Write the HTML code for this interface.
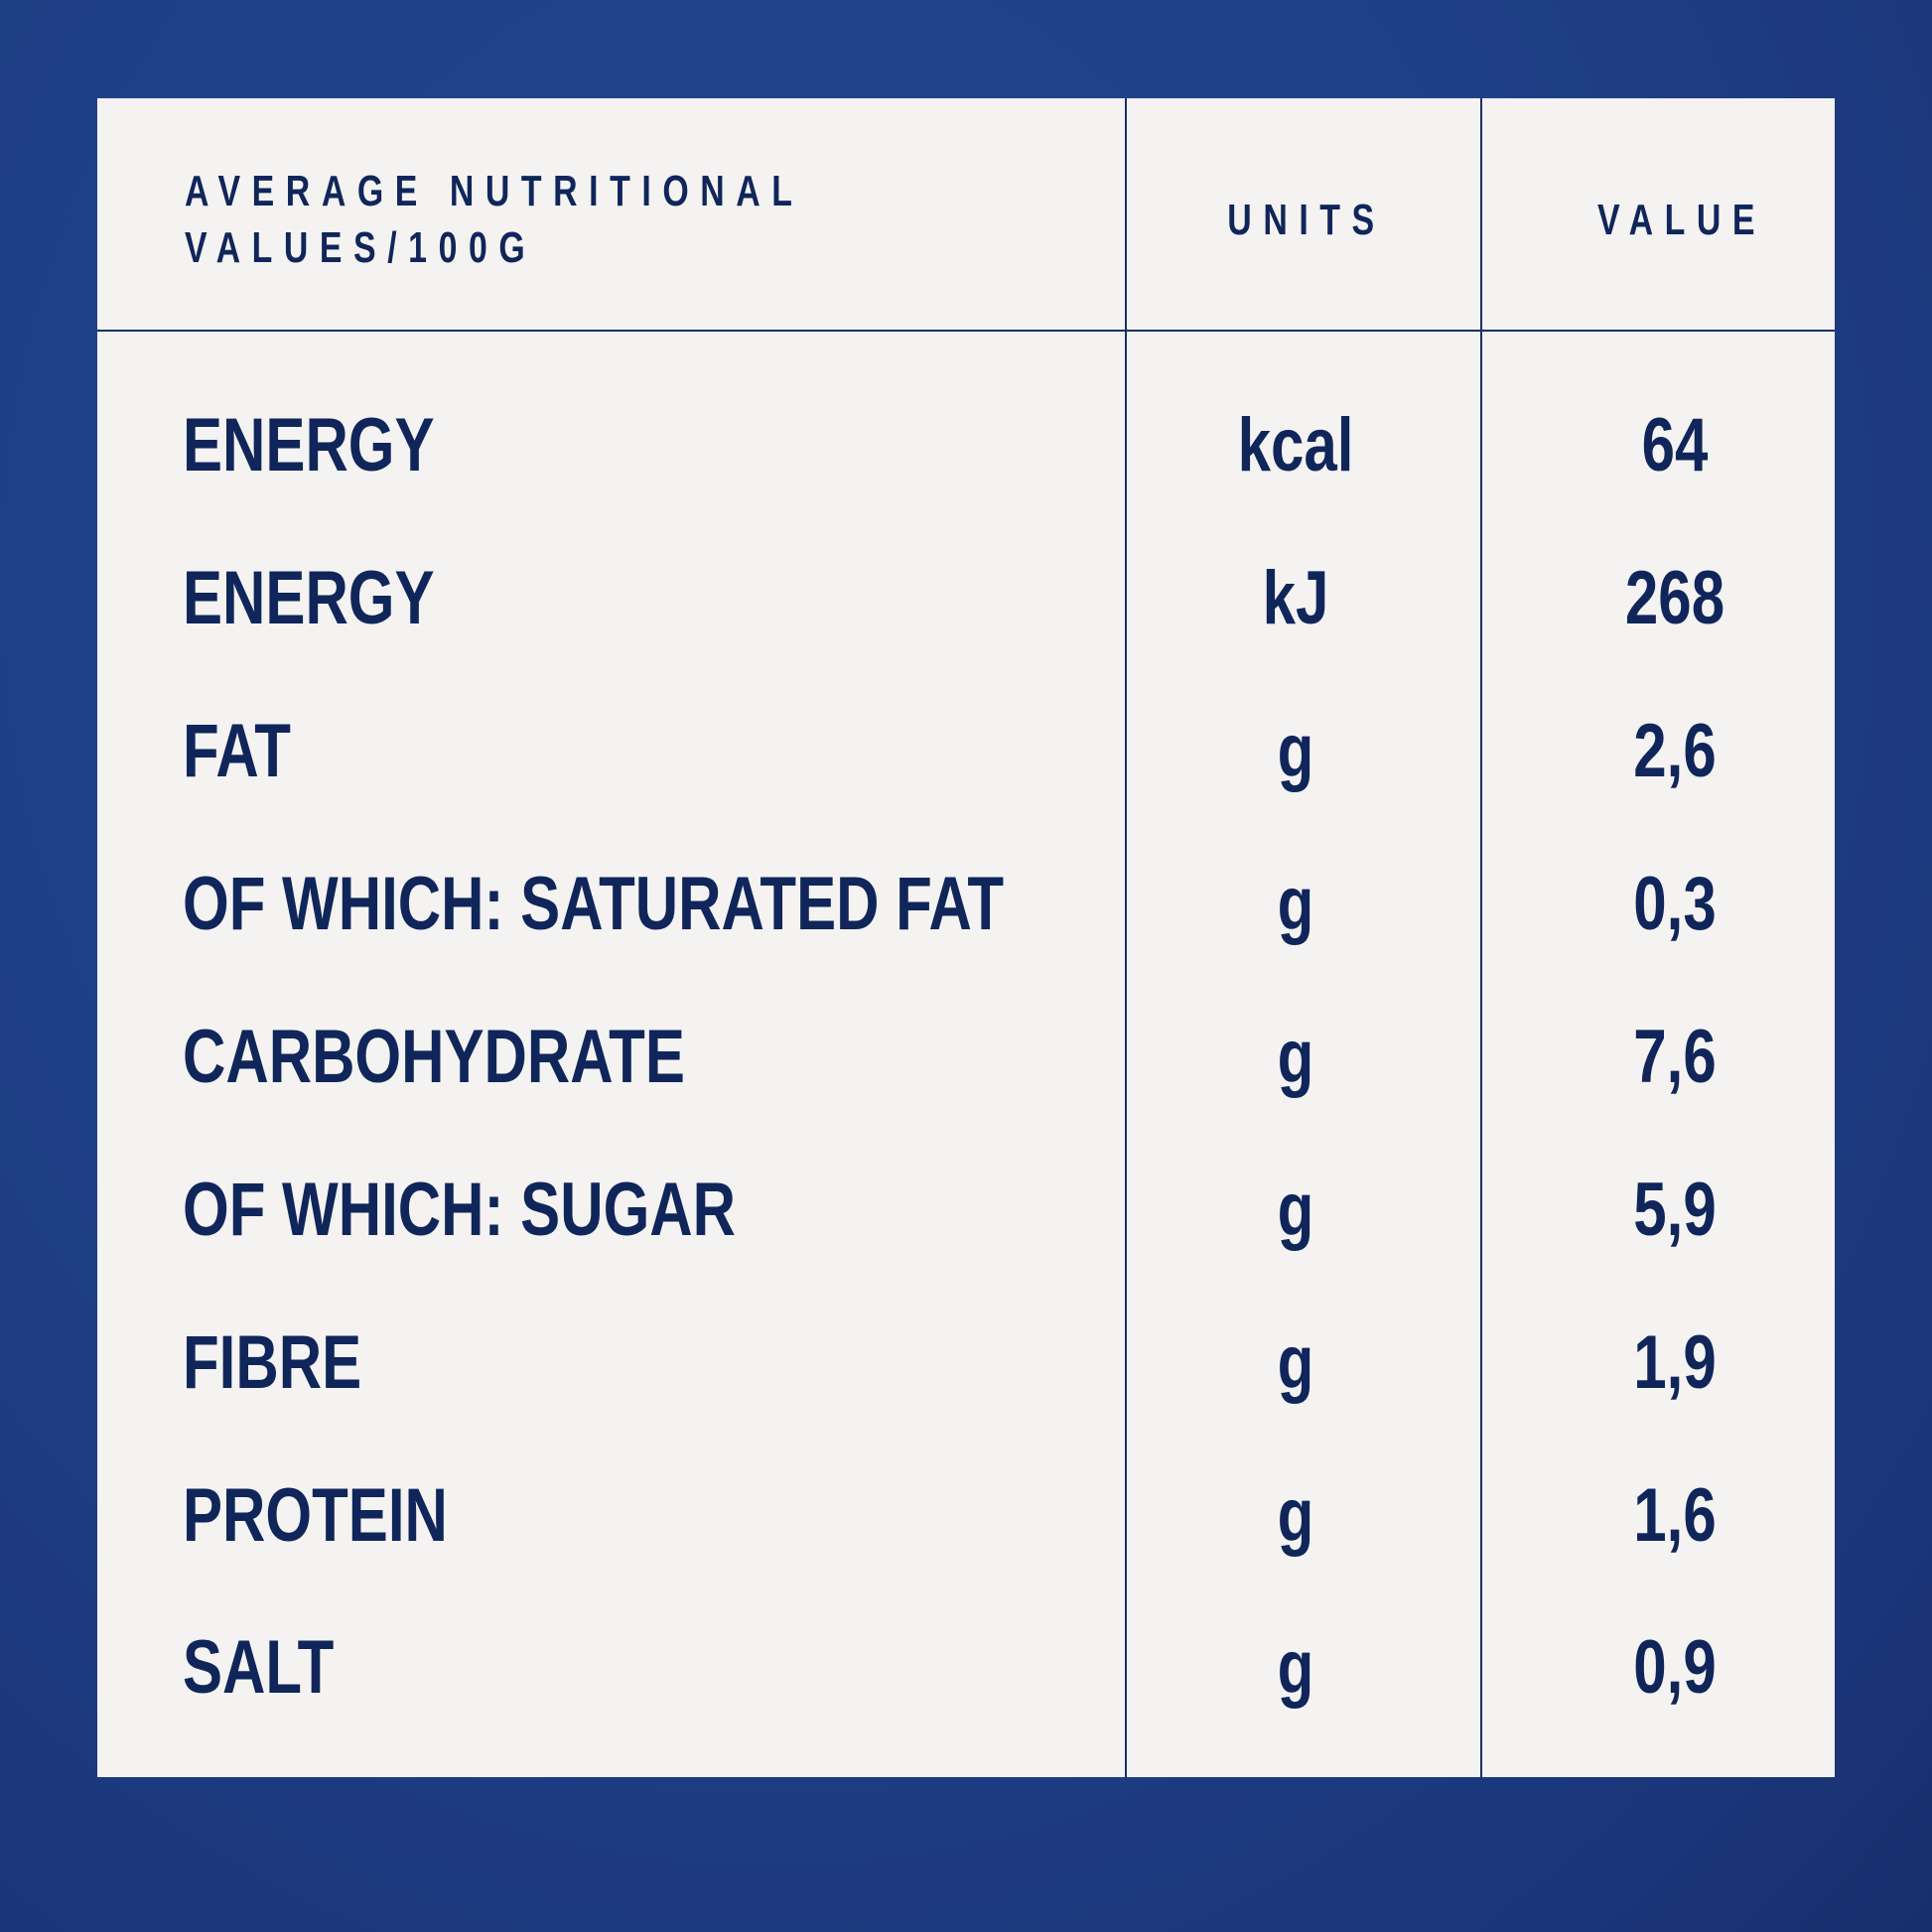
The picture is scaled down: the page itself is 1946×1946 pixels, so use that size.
<!DOCTYPE html>
<html><head><meta charset="utf-8"><style>
html,body{margin:0;padding:0}
body{width:1946px;height:1946px;position:relative;overflow:hidden;font-family:"Liberation Sans",sans-serif;color:#10265a;
background:radial-gradient(ellipse at 40% 30%,#24468f 0%,#1f3f88 50%,#1b3679 85%,#172f6c 100%);}
.panel{position:absolute;left:98px;top:99px;width:1750px;height:1691px;background:#f4f3f1;}
.v{position:absolute;top:99px;height:1691px;width:2px;background:#1b2f62}
.h{position:absolute;left:98px;width:1750px;top:332px;height:2px;background:#1b2f62}
.t{position:absolute;white-space:nowrap;line-height:1}
.hd{font-weight:bold;font-size:44px;letter-spacing:15px;transform:scaleX(0.77);transform-origin:left top}
.r{font-size:76px;font-weight:bold;transform:scaleX(0.79);transform-origin:left top}
.c{font-size:76px;font-weight:bold;width:300px;text-align:center;transform:scaleX(0.79);transform-origin:center top}
.hc{font-weight:bold;font-size:44px;letter-spacing:15px;width:400px;text-align:center;transform:scaleX(0.77);transform-origin:center top}
</style></head><body>
<div class="panel"></div>
<div class="v" style="left:1133px"></div>
<div class="v" style="left:1491px"></div>
<div class="h"></div>
<div class="t hd" style="left:186px;top:171px">AVERAGE NUTRITIONAL</div>
<div class="t hd" style="left:186px;top:228px">VALUES/100G</div>
<div class="t hc" style="left:1116px;top:200px">UNITS</div>
<div class="t hc" style="left:1494px;top:200px">VALUE</div>

<div class="t r" style="left:184px;top:411px">ENERGY</div>
<div class="t r" style="left:184px;top:565px">ENERGY</div>
<div class="t r" style="left:184px;top:719px">FAT</div>
<div class="t r" style="left:184px;top:873px">OF WHICH: SATURATED FAT</div>
<div class="t r" style="left:184px;top:1027px">CARBOHYDRATE</div>
<div class="t r" style="left:184px;top:1181px">OF WHICH: SUGAR</div>
<div class="t r" style="left:184px;top:1335px">FIBRE</div>
<div class="t r" style="left:184px;top:1489px">PROTEIN</div>
<div class="t r" style="left:184px;top:1642px">SALT</div>

<div class="t c" style="left:1155px;top:411px">kcal</div>
<div class="t c" style="left:1155px;top:565px">kJ</div>
<div class="t c" style="left:1155px;top:719px">g</div>
<div class="t c" style="left:1155px;top:873px">g</div>
<div class="t c" style="left:1155px;top:1027px">g</div>
<div class="t c" style="left:1155px;top:1181px">g</div>
<div class="t c" style="left:1155px;top:1335px">g</div>
<div class="t c" style="left:1155px;top:1489px">g</div>
<div class="t c" style="left:1155px;top:1642px">g</div>

<div class="t c" style="left:1537px;top:411px">64</div>
<div class="t c" style="left:1537px;top:565px">268</div>
<div class="t c" style="left:1537px;top:719px">2,6</div>
<div class="t c" style="left:1537px;top:873px">0,3</div>
<div class="t c" style="left:1537px;top:1027px">7,6</div>
<div class="t c" style="left:1537px;top:1181px">5,9</div>
<div class="t c" style="left:1537px;top:1335px">1,9</div>
<div class="t c" style="left:1537px;top:1489px">1,6</div>
<div class="t c" style="left:1537px;top:1642px">0,9</div>
</body></html>
